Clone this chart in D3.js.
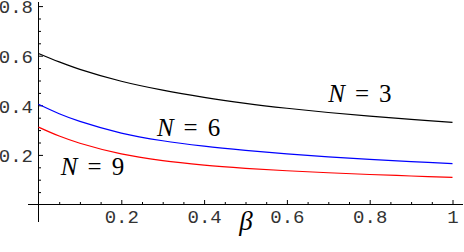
<!DOCTYPE html>
<html>
<head>
<meta charset="utf-8">
<script src="https://cdn.jsdelivr.net/npm/d3@7"></script>
<style>
  body { margin: 0; background: #fff; }
  svg { display: block; }
</style>
</head>
<body>
<div id="chart"></div>
<script>
// beta values (x) and the three curves
const beta = [0, 0.05, 0.1, 0.2, 0.3, 0.4, 0.5, 0.6, 0.7, 0.8, 0.9, 1.0];
const n3 = [0.609, 0.575, 0.545, 0.497, 0.461, 0.432, 0.408, 0.388, 0.371, 0.356, 0.343, 0.331];
const n6 = [0.404, 0.366, 0.335, 0.288, 0.257, 0.235, 0.218, 0.204, 0.192, 0.182, 0.173, 0.165];
const n9 = [0.312, 0.276, 0.247, 0.204, 0.177, 0.159, 0.146, 0.136, 0.128, 0.121, 0.115, 0.109];

const xTicks = [0.2, 0.4, 0.6, 0.8, 1];
const xTickLabels = ["0.2", "0.4", "0.6", "0.8", "1"];
const yTicks = [0.2, 0.4, 0.6, 0.8];
const yTickLabels = ["0.2", "0.4", "0.6", "0.8"];

const seriesNames = ["3", "6", "9"];
const seriesColors = ["#000000", "#0000ff", "#ff0000"];
// label anchors in data coords (beta, value)
const labelX = [0.70, 0.286, 0.054];
const labelY = [0.412, 0.278, 0.117];

const width = 464, height = 252;
const monoFont = "'Liberation Mono', 'Courier New', Cousine, Courier, monospace";
const serifFont = "'Liberation Serif', 'Times New Roman', Tinos, serif";

const svg = d3.select("#chart")
    .append("svg")
    .attr("width", width)
    .attr("height", height);

const x = d3.scaleLinear().domain([0, 1]).range([38.5, 452.5]);
const y = d3.scaleLinear().domain([0, 0.8]).range([204.5, 6.1]);

// axis lines (they poke out a bit past the origin, Mathematica style)
svg.append("line")
    .attr("x1", 28).attr("x2", 463)
    .attr("y1", y(0)).attr("y2", y(0))
    .attr("stroke", "#000").attr("stroke-width", 1);
svg.append("line")
    .attr("x1", x(0)).attr("x2", x(0))
    .attr("y1", 2).attr("y2", 222)
    .attr("stroke", "#000").attr("stroke-width", 1);

// minor ticks every 0.05
const minorX = d3.range(0.05, 1.001, 0.05).filter(v => Math.abs(v * 5 - Math.round(v * 5)) > 1e-6);
const minorY = d3.range(0.05, 0.801, 0.05).filter(v => Math.abs(v * 5 - Math.round(v * 5)) > 1e-6);

svg.append("g")
    .attr("transform", `translate(0,${y(0)})`)
    .call(d3.axisBottom(x).tickValues(minorX).tickSize(-2.5).tickFormat(""))
    .call(g => g.select(".domain").remove());

svg.append("g")
    .attr("transform", `translate(${x(0)},0)`)
    .call(d3.axisLeft(y).tickValues(minorY).tickSize(-2.5).tickFormat(""))
    .call(g => g.select(".domain").remove());

// major ticks + labels
svg.append("g")
    .attr("transform", `translate(0,${y(0)})`)
    .call(d3.axisBottom(x).tickValues(xTicks).tickSize(-4.5).tickPadding(5)
        .tickFormat((d, i) => xTickLabels[i]))
    .call(g => g.select(".domain").remove())
    .call(g => g.selectAll(".tick text")
        .attr("y", 5)
        .style("font-family", monoFont)
        .style("font-size", "19px")
        .attr("fill", "#333"));

svg.append("g")
    .attr("transform", `translate(${x(0)},0)`)
    .call(d3.axisLeft(y).tickValues(yTicks).tickSize(-4.5).tickPadding(5.5)
        .tickFormat((d, i) => yTickLabels[i]))
    .call(g => g.select(".domain").remove())
    .call(g => g.selectAll(".tick text")
        .attr("x", -5.5)
        .attr("dy", "0.36em")
        .style("font-family", monoFont)
        .style("font-size", "19px")
        .attr("fill", "#333"));

// curves
const line = d3.line()
    .x((d, i) => x(beta[i]))
    .y(d => y(d))
    .curve(d3.curveCatmullRom.alpha(0.5));

[n3, n6, n9].forEach((s, k) => {
    svg.append("path")
        .datum(s)
        .attr("d", line)
        .attr("fill", "none")
        .attr("stroke", seriesColors[k])
        .attr("stroke-width", 1.2);
});

// N = ... labels
seriesNames.forEach((n, k) => {
    const t = svg.append("text")
        .attr("x", x(labelX[k]))
        .attr("y", y(labelY[k]))
        .style("font-family", serifFont)
        .style("font-size", "25px")
        .attr("fill", "#000");
    t.append("tspan").style("font-style", "italic").text("N");
    t.append("tspan").attr("dx", 10).text("=");
    t.append("tspan").attr("dx", 10).text(n);
});

// axis title
svg.append("text")
    .attr("x", 246)
    .attr("y", 230)
    .attr("text-anchor", "middle")
    .style("font-family", serifFont)
    .style("font-style", "italic")
    .style("font-size", "27px")
    .attr("fill", "#000")
    .text("β");
</script>
</body>
</html>
